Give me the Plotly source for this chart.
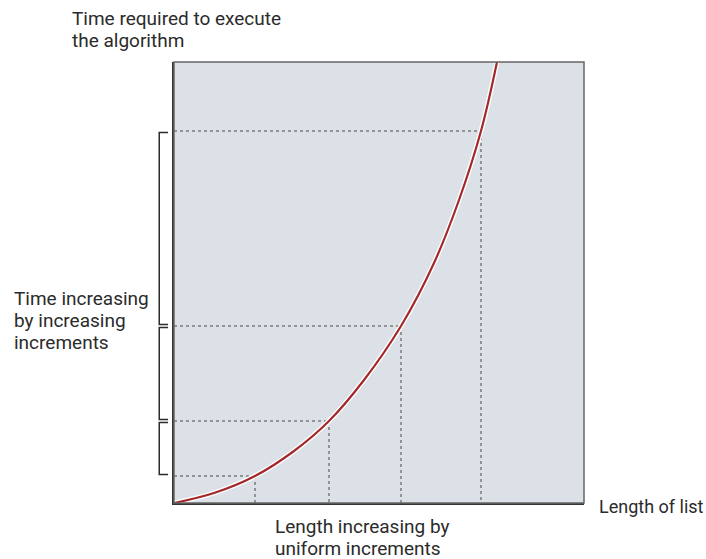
"""
Growth of execution time vs list length (quadratic-style curve) with dotted guides.
"""
import plotly.graph_objects as go

# curve (length units, time units)
curve_x = [0, 40, 81, 120, 155, 190, 227, 260, 285, 307, 323]
curve_y = [0, 10, 27, 52, 82, 123, 177, 240, 303, 372, 441]

# uniform length steps and the times they reach
mark_x = [81, 155, 227, 307]
mark_y = [27, 82, 177, 372]

x_max = 410
y_max = 441

_BG    = "#dce1e7"
_CURVE = "#a3282b"
_DOT   = "#7a7a7a"
_INK   = "#2b2b2b"
_FONT  = "Roboto, Arial, sans-serif"

fig = go.Figure()

# dotted guides: horizontal from y axis to curve, vertical from curve to x axis
gx, gy = [], []
for mx, my in zip(mark_x, mark_y):
    gx += [0, mx, None, mx, mx, None]
    gy += [my, my, None, my, 0, None]
fig.add_trace(go.Scatter(x=gx, y=gy, mode="lines", hoverinfo="skip",
                         line=dict(color=_DOT, width=1.5, dash="dot")))

# white halo then red curve
fig.add_trace(go.Scatter(x=curve_x, y=curve_y, mode="lines", line_shape="spline",
                         hoverinfo="skip", line=dict(color="white", width=5)))
fig.add_trace(go.Scatter(x=curve_x, y=curve_y, mode="lines", line_shape="spline",
                         hoverinfo="skip", line=dict(color=_CURVE, width=2.2)))

# brackets left of the y axis
bx0, bx1 = -0.036, -0.0145
shapes = [dict(type="rect", xref="paper", yref="paper", x0=0, x1=1, y0=0, y1=1,
               line=dict(color="#666", width=1.5), layer="above")]
for lo, hi in zip(mark_y[:-1], mark_y[1:]):
    a, b = lo + 1.5, hi - 1.5
    shapes.append(dict(type="path", xref="paper", yref="y",
                       path=f"M {bx1},{a} L {bx0},{a} L {bx0},{b} L {bx1},{b}",
                       line=dict(color=_INK, width=1.5)))


# page pixel -> paper coords (plot area sits at 174..584 x 62..503)
def px_x(p):
    return (p - 174) / 410


def px_y(p):
    return (503 - p) / 441


ann = dict(xref="paper", yref="paper", showarrow=False, xanchor="left",
           yanchor="middle", align="left", font=dict(family=_FONT, size=19, color=_INK))
labels = [
    (["Time required to execute", "the algorithm"], 70, 19),
    (["Time increasing", "by increasing", "increments"], 12, 298),
    (["Length increasing by", "uniform increments"], 273, 526),
]
annotations = []
for lines, x0, y0 in labels:
    for i, line in enumerate(lines):
        annotations.append(dict(ann, text=line, x=px_x(x0), y=px_y(y0 + 22 * i)))
annotations.append(dict(ann, text="Length of list", x=px_x(597), y=px_y(506),
                        font=dict(family=_FONT, size=18, color=_INK)))

fig.update_xaxes(range=[0, x_max], showgrid=False, zeroline=False, showticklabels=False,
                 ticks="", showline=True, linecolor="#333", linewidth=2)
fig.update_yaxes(range=[0, y_max], showgrid=False, zeroline=False, showticklabels=False,
                 ticks="", showline=True, linecolor="#333", linewidth=2)
fig.update_layout(
    width=706, height=559,
    showlegend=False,
    plot_bgcolor=_BG,
    paper_bgcolor="white",
    margin=dict(l=174, r=122, t=62, b=56, autoexpand=False),
    shapes=shapes,
    annotations=annotations,
)

# drop the browser's default body margin so the figure fills the window exactly
fig.write_html("out.html", config={"displayModeBar": False},
               post_script="document.body.style.margin='0';")
